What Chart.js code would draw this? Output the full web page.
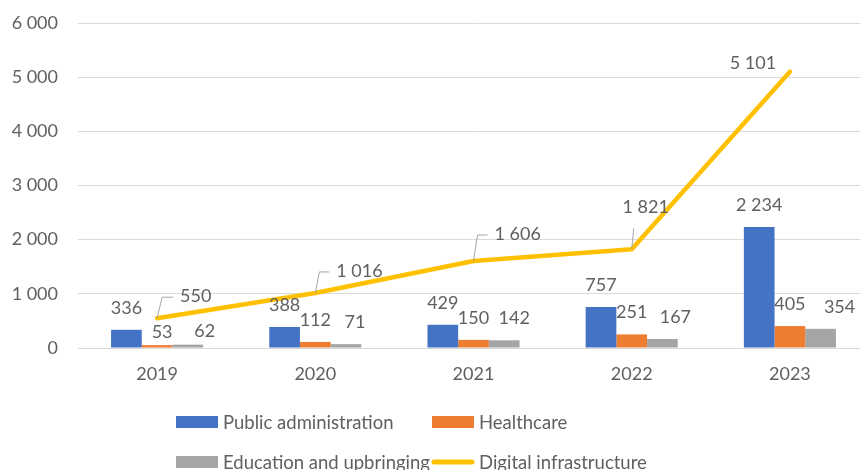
<!DOCTYPE html>
<html>
<head>
<meta charset="utf-8">
<script src="https://cdn.jsdelivr.net/npm/chart.js@4.4.1/dist/chart.umd.min.js"></script>
<style>
  html, body { margin: 0; padding: 0; overflow: hidden; background: #fff; }
  #wrap { position: relative; width: 870px; height: 470px; }
</style>
</head>
<body>
<div id="wrap"><canvas id="c" width="870" height="470"></canvas></div>
<script>
const years = ['2019', '2020', '2021', '2022', '2023'];
const publicAdministration = [336, 388, 429, 757, 2234];
const healthcare = [53, 112, 150, 251, 405];
const educationAndUpbringing = [62, 71, 142, 167, 354];
const digitalInfrastructure = [550, 1016, 1606, 1821, 5101];
const yTicks = [0, 1000, 2000, 3000, 4000, 5000, 6000];

const FONT = 'Lato, "Open Sans", sans-serif';
const TEXT = '#606060';
const fmt = v => String(v).replace(/\B(?=(\d{3})+(?!\d))/g, ' ');

// label placement (styling only)
const barLabelShift = { 0: [0, 0, 0, 0, 0], 1: [5, 0, 0, 0, 0], 2: [17, 9, 10, 13, 19] };
const barLabelRaise = { 0: [22, 22, 22, 22, 22], 1: [13, 22, 22, 22, 22], 2: [13, 22, 22, 22, 22] };
const lineLabelPos = [
  { type: 'side', dx: 23, dy: -22, lx: 5 },
  { type: 'side', dx: 21, dy: -22, lx: 4 },
  { type: 'side', dx: 21, dy: -27, lx: 4 },
  { type: 'top', dx: 14, dy: -42, leaderTo: -21, lx: 2 },
  { type: 'none', dx: -37, dy: -9 }
];

const labelPlugin = {
  id: 'labels',
  afterDatasetsDraw(chart) {
    const ctx = chart.ctx;
    ctx.save();
    ctx.font = '18px ' + FONT;
    ctx.fillStyle = TEXT;
    ctx.textBaseline = 'middle';
    chart.data.datasets.forEach((ds, di) => {
      const meta = chart.getDatasetMeta(di);
      if (ds.type === 'line') {
        meta.data.forEach((pt, i) => {
          const p = lineLabelPos[i];
          const txt = fmt(ds.data[i]);
          ctx.strokeStyle = '#a6a6a6';
          ctx.lineWidth = 1;
          if (p.type === 'side') {
            ctx.beginPath();
            ctx.moveTo(pt.x, pt.y);
            ctx.lineTo(pt.x + p.lx, pt.y + p.dy + 1);
            ctx.lineTo(pt.x + p.dx - 7, pt.y + p.dy + 1);
            ctx.stroke();
            ctx.textAlign = 'left';
            ctx.fillText(txt, pt.x + p.dx, pt.y + p.dy);
          } else if (p.type === 'top') {
            ctx.beginPath();
            ctx.moveTo(pt.x, pt.y);
            ctx.lineTo(pt.x + p.lx, pt.y + p.leaderTo);
            ctx.stroke();
            ctx.textAlign = 'center';
            ctx.fillText(txt, pt.x + p.dx, pt.y + p.dy);
          } else {
            ctx.textAlign = 'center';
            ctx.fillText(txt, pt.x + p.dx, pt.y + p.dy);
          }
        });
      } else {
        meta.data.forEach((bar, i) => {
          ctx.textAlign = 'center';
          ctx.fillText(fmt(ds.data[i]), bar.x + barLabelShift[di][i], bar.y - barLabelRaise[di][i]);
        });
      }
    });
    ctx.restore();
  }
};

const legendPlugin = {
  id: 'customLegend',
  afterDraw(chart) {
    const ctx = chart.ctx;
    const cols = [176, 432];
    const rows = [422, 462];
    ctx.save();
    ctx.font = '18.5px ' + FONT;
    ctx.textBaseline = 'middle';
    ctx.textAlign = 'left';
    chart.data.datasets.forEach((ds, i) => {
      const x = cols[i % 2], y = rows[Math.floor(i / 2)];
      if (ds.type === 'line') {
        ctx.strokeStyle = ds.borderColor;
        ctx.lineWidth = 5;
        ctx.lineCap = 'round';
        ctx.beginPath();
        ctx.moveTo(x + 2, y);
        ctx.lineTo(x + 40, y);
        ctx.stroke();
      } else {
        ctx.fillStyle = ds.backgroundColor;
        ctx.fillRect(x, y - 6, 42, 12);
      }
      ctx.fillStyle = TEXT;
      ctx.fillText(ds.label, x + 47, y + 1);
    });
    ctx.restore();
  }
};

new Chart(document.getElementById('c'), {
  data: {
    labels: years,
    datasets: [
      { type: 'bar', label: 'Public administration', data: publicAdministration, backgroundColor: '#4472C4', order: 1 },
      { type: 'bar', label: 'Healthcare', data: healthcare, backgroundColor: '#ED7D31', order: 1 },
      { type: 'bar', label: 'Education and upbringing', data: educationAndUpbringing, backgroundColor: '#A5A5A5', order: 1 },
      { type: 'line', label: 'Digital infrastructure', data: digitalInfrastructure, borderColor: '#FFC000',
        backgroundColor: '#FFC000', borderWidth: 4.5, pointRadius: 0, tension: 0,
        borderCapStyle: 'round', borderJoinStyle: 'round', order: 0 }
    ]
  },
  options: {
    responsive: false,
    animation: false,
    layout: { padding: { top: 23, right: 1, left: 0, bottom: 82 } },
    datasets: { bar: { categoryPercentage: 0.582, barPercentage: 1 } },
    plugins: { legend: { display: false }, tooltip: { enabled: false } },
    scales: {
      x: {
        grid: { display: false, drawTicks: false },
        border: { display: true, color: '#d9d9d9' },
        ticks: { color: TEXT, font: { family: FONT, size: 18 }, padding: 15 },
        afterFit(s) { s.height = 40; }
      },
      y: {
        min: 0, max: 6000,
        afterBuildTicks(s) { s.ticks = yTicks.map(v => ({ value: v })); },
        grid: { color: '#d9d9d9', lineWidth: 1, drawTicks: true, tickLength: 16, tickColor: 'rgba(0,0,0,0)' },
        border: { display: false },
        ticks: { color: TEXT, font: { family: FONT, size: 18 }, padding: 4, callback: v => fmt(v) },
        afterFit(s) { s.width = 78; }
      }
    }
  },
  plugins: [labelPlugin, legendPlugin]
});
</script>
</body>
</html>
